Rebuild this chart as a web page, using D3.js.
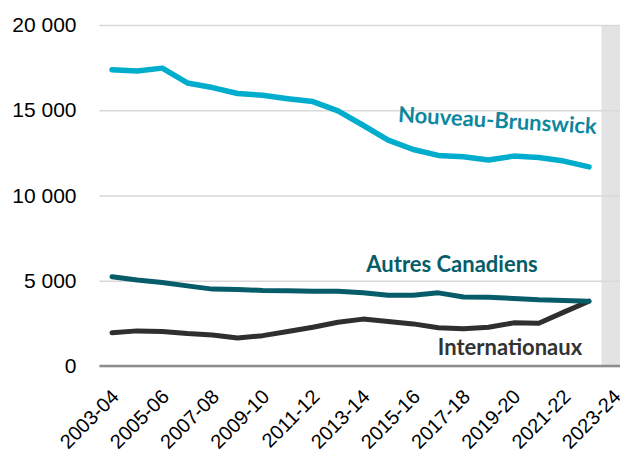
<!DOCTYPE html>
<html>
<head>
<meta charset="utf-8">
<script src="https://cdn.jsdelivr.net/npm/d3@7"></script>
<style>
  body { margin: 0; background: #fff; }
  svg { display: block; font-family: Lato, "Open Sans", sans-serif; }
</style>
</head>
<body>
<script>
// categories (school years)
var years = ["2003-04","2004-05","2005-06","2006-07","2007-08","2008-09","2009-10",
  "2010-11","2011-12","2012-13","2013-14","2014-15","2015-16","2016-17","2017-18",
  "2018-19","2019-20","2020-21","2021-22","2022-23","2023-24"];

// series values (2003-04 .. 2022-23)
var nouveauBrunswick = [17380, 17300, 17470, 16600, 16330, 15980, 15880, 15680, 15510, 14960,
  14120, 13250, 12700, 12350, 12270, 12080, 12310, 12230, 12020, 11680];
var autresCanadiens = [5240, 5040, 4900, 4700, 4510, 4490, 4430, 4410, 4390, 4390,
  4290, 4150, 4150, 4290, 4050, 4030, 3960, 3880, 3840, 3800];
var internationaux = [1950, 2060, 2030, 1900, 1820, 1640, 1780, 2020, 2270, 2570,
  2750, 2610, 2470, 2240, 2180, 2270, 2530, 2510, 3160, 3800];

var yTicks = [0, 5000, 10000, 15000, 20000];
var shadedYear = "2023-24";

var W = 620, H = 454;
var margin = {top: 25, left: 99.5, bottom: 88};
var plotW = 21 * 25.1;

var svg = d3.select("body").append("svg")
    .attr("width", W)
    .attr("height", H);

var x = d3.scaleBand().domain(years).range([margin.left, margin.left + plotW]);
var y = d3.scaleLinear().domain([0, 20000]).range([H - margin.bottom, margin.top]);

var fr = d3.formatLocale({decimal: ",", thousands: " ", grouping: [3], currency: ["", ""]});
var fmt = fr.format(",");

// shaded projection column
svg.append("rect")
    .attr("x", x(shadedYear))
    .attr("y", y(20000))
    .attr("width", x.bandwidth() + 2)
    .attr("height", y(0) - y(20000))
    .attr("fill", "#e3e3e3");

// y axis with gridlines
var yAxis = svg.append("g")
    .attr("transform", "translate(" + margin.left + ",0)")
    .call(d3.axisLeft(y).tickValues(yTicks).tickSize(-plotW).tickPadding(23).tickFormat(fmt));
yAxis.select(".domain").remove();
yAxis.selectAll(".tick line")
    .attr("stroke", "#d9d9d9")
    .attr("stroke-width", 1.5);
yAxis.selectAll(".tick text")
    .attr("fill", "#000")
    .style("font-size", "21px");

// baseline at 0
svg.append("line")
    .attr("x1", margin.left).attr("x2", margin.left + plotW)
    .attr("y1", y(0)).attr("y2", y(0))
    .attr("stroke", "#8c8c8c")
    .attr("stroke-width", 2.5);

// x axis, every other label
var xAxis = svg.append("g")
    .attr("transform", "translate(0," + y(0) + ")")
    .call(d3.axisBottom(x).tickValues(years.filter(function(d, i) { return i % 2 == 0; })).tickSize(0));
xAxis.select(".domain").remove();
xAxis.selectAll(".tick text")
    .attr("fill", "#000")
    .style("font-size", "20px")
    .style("text-anchor", "end")
    .attr("y", 0)
    .attr("dy", 0)
    .attr("transform", "translate(8,32) rotate(-45)");

var line = d3.line()
    .x(function(d, i) { return x(years[i]) + x.bandwidth() / 2; })
    .y(function(d) { return y(d); });

var series = [
  {name: "Internationaux", values: internationaux, color: "#2f2f2f", width: 5},
  {name: "Autres Canadiens", values: autresCanadiens, color: "#065d69", width: 5},
  {name: "Nouveau-Brunswick", values: nouveauBrunswick, color: "#00adcc", width: 5.5}
];

svg.selectAll("path.series")
    .data(series)
    .enter()
    .append("path")
    .attr("class", "series")
    .attr("d", function(d) { return line(d.values); })
    .attr("fill", "none")
    .attr("stroke", function(d) { return d.color; })
    .attr("stroke-width", function(d) { return d.width; })
    .attr("stroke-linejoin", "round")
    .attr("stroke-linecap", "round");

// series labels
svg.append("text")
    .attr("transform", "translate(497,128) rotate(3.5)")
    .attr("text-anchor", "middle")
    .attr("fill", "#0d879d")
    .style("font-size", "22px")
    .style("font-weight", "bold")
    .text("Nouveau-Brunswick");

svg.append("text")
    .attr("x", 452).attr("y", 272)
    .attr("text-anchor", "middle")
    .attr("fill", "#065d69")
    .style("font-size", "22px")
    .style("font-weight", "bold")
    .text("Autres Canadiens");

svg.append("text")
    .attr("x", 510).attr("y", 355)
    .attr("text-anchor", "middle")
    .attr("fill", "#333333")
    .style("font-size", "22px")
    .style("font-weight", "bold")
    .text("Internationaux");
</script>
</body>
</html>
